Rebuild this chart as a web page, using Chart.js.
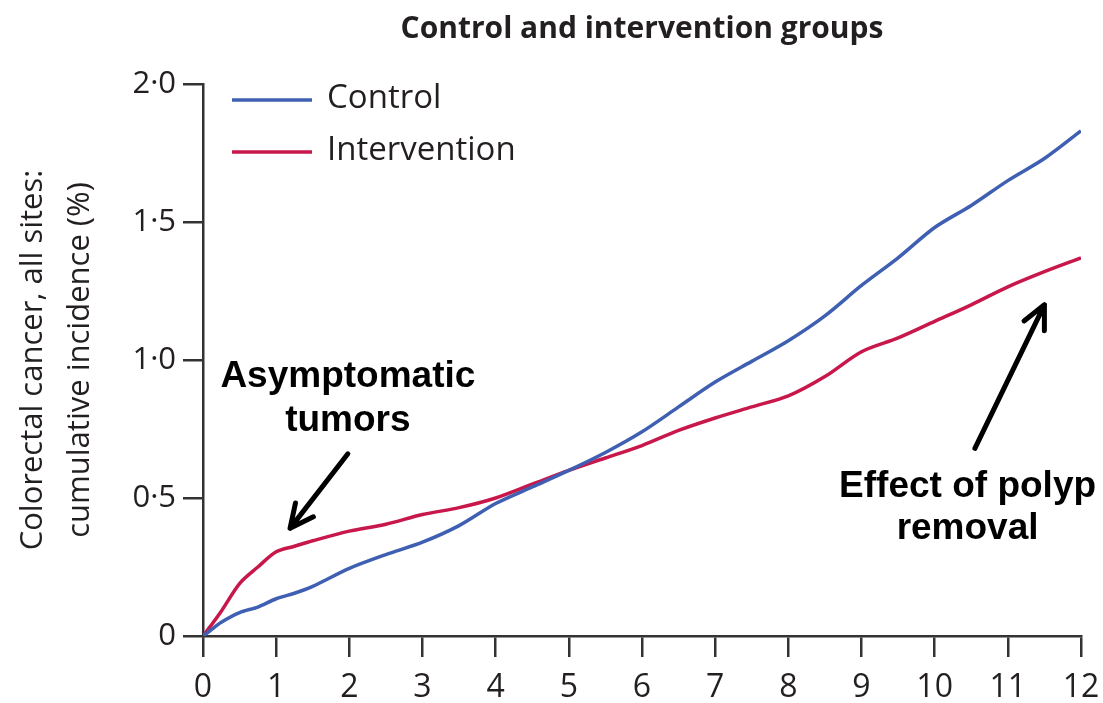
<!DOCTYPE html>
<html>
<head>
<meta charset="utf-8">
<script src="https://cdn.jsdelivr.net/npm/chart.js@4/dist/chart.umd.min.js"></script>
<style>
  html, body { margin: 0; padding: 0; background: #fff; }
  #wrap { width: 1103px; height: 703px; }
</style>
</head>
<body>
<div id="wrap"><canvas id="myChart"></canvas></div>
<script>
// years since randomisation
const years = [0, 0.1, 0.25, 0.5, 0.75, 1, 1.25, 1.5, 2, 2.5, 3, 3.5, 4, 4.5, 5, 5.5, 6, 6.5, 7, 7.5, 8, 8.5, 9, 9.5, 10, 10.5, 11, 11.5, 12]
// cumulative incidence (%)
const control = [0, 0.02, 0.05, 0.085, 0.105, 0.135, 0.155, 0.18, 0.245, 0.295, 0.34, 0.40, 0.48, 0.54, 0.60, 0.665, 0.74, 0.83, 0.92, 0.995, 1.07, 1.16, 1.27, 1.37, 1.48, 1.56, 1.65, 1.73, 1.83]
const intervention = [0, 0.035, 0.09, 0.19, 0.25, 0.305, 0.325, 0.345, 0.38, 0.405, 0.44, 0.465, 0.50, 0.55, 0.60, 0.645, 0.69, 0.745, 0.79, 0.83, 0.87, 0.94, 1.03, 1.08, 1.14, 1.20, 1.265, 1.32, 1.37]
const seriesNames = ['Control', 'Intervention']
const xTicks = [0, 1, 2, 3, 4, 5, 6, 7, 8, 9, 10, 11, 12]
const yTicks = [0, 0.5, 1, 1.5, 2]

const blue = '#3f5fb2'
const red = '#c8174b'
const ink = '#231f20'

function toPoints(vals) {
    return years.map((x, i) => ({ x: x, y: vals[i] }))
}

// legend + annotations drawn on top of the chart area
const overlay = {
    id: 'overlay',
    afterDraw(chart) {
        const ctx = chart.ctx
        const xs = chart.scales.x
        const ys = chart.scales.y
        const area = chart.chartArea

        // legend
        ctx.save()
        ctx.font = '33px "Open Sans"'
        ctx.textBaseline = 'middle'
        ctx.fillStyle = ink
        ;[blue, red].forEach((c, i) => {
            const yy = area.top + 16 + i * 52
            ctx.strokeStyle = c
            ctx.lineWidth = 3.5
            ctx.beginPath()
            ctx.moveTo(area.left + 29, yy)
            ctx.lineTo(area.left + 109, yy)
            ctx.stroke()
            ctx.fillText(seriesNames[i], area.left + 124, yy - 1)
        })
        ctx.restore()

        // callouts
        ctx.save()
        ctx.font = 'bold 37px "Liberation Sans", Arial'
        ctx.fillStyle = '#000'
        ctx.textAlign = 'center'
        ctx.textBaseline = 'middle'
        ctx.fillText('Asymptomatic', xs.getPixelForValue(1.98), ys.getPixelForValue(0.94))
        ctx.fillText('tumors', xs.getPixelForValue(1.98), ys.getPixelForValue(0.78))
        ctx.fillText('Effect of polyp', xs.getPixelForValue(10.45), ys.getPixelForValue(0.54))
        ctx.fillText('removal', xs.getPixelForValue(10.45), ys.getPixelForValue(0.39))
        drawArrow(ctx, xs.getPixelForValue(1.98), ys.getPixelForValue(0.66), xs.getPixelForValue(1.19), ys.getPixelForValue(0.39))
        drawArrow(ctx, xs.getPixelForValue(10.55), ys.getPixelForValue(0.68), xs.getPixelForValue(11.5), ys.getPixelForValue(1.2))
        ctx.restore()
    }
}

function drawArrow(ctx, x1, y1, x2, y2) {
    const a = Math.atan2(y2 - y1, x2 - x1)
    const h = 26
    ctx.strokeStyle = '#000'
    ctx.lineWidth = 5
    ctx.lineCap = 'round'
    ctx.lineJoin = 'round'
    ctx.beginPath()
    ctx.moveTo(x1, y1)
    ctx.lineTo(x2, y2)
    ctx.moveTo(x2 - h * Math.cos(a - 0.45), y2 - h * Math.sin(a - 0.45))
    ctx.lineTo(x2, y2)
    ctx.lineTo(x2 - h * Math.cos(a + 0.45), y2 - h * Math.sin(a + 0.45))
    ctx.stroke()
}

const myChart = new Chart(document.getElementById('myChart'), {
    type: 'line',
    data: {
        datasets: [{
            label: seriesNames[0],
            data: toPoints(control),
            borderColor: blue,
            borderWidth: 3.5,
            pointRadius: 0,
            tension: 0.3,
            fill: false
        }, {
            label: seriesNames[1],
            data: toPoints(intervention),
            borderColor: red,
            borderWidth: 3.5,
            pointRadius: 0,
            tension: 0.3,
            fill: false
        }]
    },
    options: {
        responsive: true,
        maintainAspectRatio: false,
        animation: false,
        layout: { padding: { top: 0, right: 22, bottom: 0, left: 0 } },
        plugins: {
            legend: { display: false },
            tooltip: { enabled: false },
            title: {
                display: true,
                fullSize: false,
                text: 'Control and intervention groups',
                color: ink,
                font: { family: '"Open Sans"', size: 30, weight: 'bold' },
                padding: { top: 11, bottom: 37 }
            }
        },
        scales: {
            x: {
                type: 'linear',
                min: 0,
                max: 12,
                afterBuildTicks: s => { s.ticks = xTicks.map(v => ({ value: v })) },
                border: { color: '#333', width: 2.5 },
                grid: { drawOnChartArea: false, drawTicks: true, tickLength: 21, color: '#333', lineWidth: 2.5 },
                ticks: {
                    color: ink,
                    font: { family: '"Open Sans"', size: 32 },
                    padding: 12,
                    maxRotation: 0
                },
                afterFit: s => { s.height = 67; s.paddingRight = 0; s.paddingLeft = 0 }
            },
            y: {
                type: 'linear',
                min: 0,
                max: 2,
                afterBuildTicks: s => { s.ticks = yTicks.map(v => ({ value: v })) },
                border: { color: '#333', width: 2.5 },
                grid: { drawOnChartArea: false, drawTicks: true, tickLength: 20, color: '#333', lineWidth: 2.5 },
                ticks: {
                    color: ink,
                    font: { family: '"Open Sans"', size: 31 },
                    padding: 7,
                    callback: v => v === 0 ? '0' : v.toFixed(1).replace('.', '\u00b7')
                },
                title: {
                    display: true,
                    text: ['Colorectal cancer, all sites:', 'cumulative incidence (%)'],
                    color: ink,
                    font: { family: '"Open Sans"', size: 31, lineHeight: 1.5 },
                    padding: { top: 10, bottom: 0 }
                },
                afterFit: s => { s.width = 203 }
            }
        }
    },
    plugins: [overlay]
})
</script>
</body>
</html>
